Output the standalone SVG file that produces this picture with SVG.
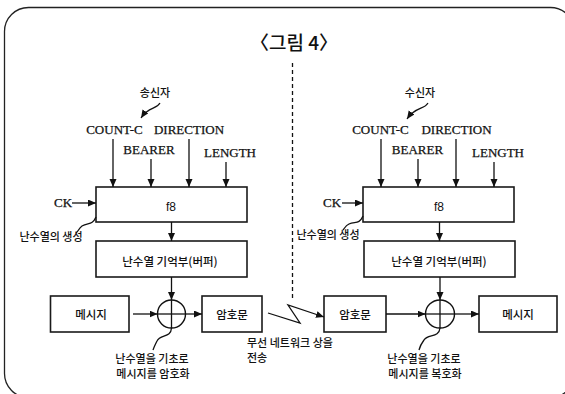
<svg xmlns="http://www.w3.org/2000/svg" width="565" height="394" viewBox="0 0 565 394">
<defs>
<marker id="arr" markerUnits="userSpaceOnUse" markerWidth="9" markerHeight="8" refX="8" refY="3.5" orient="auto">
<path d="M0,0 L8,3.5 L0,7 z" fill="#111"/>
</marker>
<style>
.box{fill:#fff;stroke:#1a1a1a;stroke-width:1.6}
.ln{fill:none;stroke:#111;stroke-width:1.3}
.ar{fill:none;stroke:#111;stroke-width:1.3;marker-end:url(#arr)}
.ser{font-family:"Liberation Serif","Times New Roman",serif;font-size:13px;fill:#111;stroke:#111;stroke-width:0.25}
.ko{font-family:"Noto Sans CJK KR","Noto Sans",sans-serif;font-size:11px;font-weight:500;fill:#111}
.kb{font-family:"Noto Sans CJK KR","Noto Sans",sans-serif;font-size:11.5px;font-weight:500;fill:#111}
.sm{font-family:"Liberation Sans","Noto Sans",sans-serif;font-size:12px;fill:#111}
</style>
</defs>
<rect width="565" height="394" fill="#fff"/>
<rect x="4.5" y="7.5" width="570" height="390" rx="24" fill="none" stroke="#222" stroke-width="1.3"/>
<text x="294" y="50" text-anchor="middle" font-family="'Noto Sans CJK KR','Noto Sans',sans-serif" font-size="19" font-weight="500" fill="#111">〈그림 4〉</text>
<line x1="292.5" y1="63" x2="292.5" y2="298" stroke="#111" stroke-width="1.3" stroke-dasharray="4,3"/>

<g id="sender-label">
<text class="ko" x="155" y="97" text-anchor="middle">송신자</text>
</g>
<g id="sender-inputs">
<text class="ser" x="114.5" y="134" text-anchor="middle">COUNT-C</text>
<text class="ser" x="189" y="134" text-anchor="middle">DIRECTION</text>
<text class="ser" x="149" y="154" text-anchor="middle">BEARER</text>
<text class="ser" x="230" y="157" text-anchor="middle">LENGTH</text>
<text class="ser" x="63" y="207" text-anchor="middle">CK</text>
</g>
<g id="sender-f8">
<rect class="box" x="96" y="187" width="151" height="35"/>
<text class="sm" x="171" y="211" text-anchor="middle">f8</text>
</g>
<g id="sender-gen-label">
<text class="ko" x="51" y="241" text-anchor="middle" font-size="10.5">난수열의 생성</text>
</g>
<g id="sender-buffer">
<rect class="box" x="96" y="241" width="151" height="36"/>
<text class="kb" x="170" y="266" text-anchor="middle">난수열 기억부(버퍼)</text>
</g>
<g id="sender-message">
<rect class="box" x="50.5" y="296" width="78.5" height="36"/>
<text class="kb" x="91" y="319" text-anchor="middle">메시지</text>
</g>
<g id="sender-xor">
<ellipse cx="171.5" cy="314" rx="14" ry="14" fill="#fff" stroke="#111" stroke-width="1.4"/>
<line x1="157.5" y1="314" x2="185.5" y2="314" stroke="#111" stroke-width="1.3"/>
<line x1="171.5" y1="300" x2="171.5" y2="328" stroke="#111" stroke-width="1.3"/>
</g>
<g id="sender-cipher">
<rect class="box" x="202" y="296" width="60" height="36"/>
<text class="kb" x="232" y="319" text-anchor="middle">암호문</text>
</g>
<g id="sender-xor-label">
<text class="ko" x="152" y="363" text-anchor="middle">난수열을 기초로</text>
<text class="ko" x="153" y="378" text-anchor="middle">메시지를 암호화</text>
</g>
<g id="wireless-label">
<text class="ko" x="247" y="347">무선 네트워크 상을</text>
<text class="ko" x="247" y="362">전송</text>
</g>

<g id="receiver-label">
<text class="ko" x="420" y="97" text-anchor="middle">수신자</text>
</g>
<g id="receiver-inputs">
<text class="ser" x="380.5" y="134" text-anchor="middle">COUNT-C</text>
<text class="ser" x="456.5" y="134" text-anchor="middle">DIRECTION</text>
<text class="ser" x="417.5" y="154" text-anchor="middle">BEARER</text>
<text class="ser" x="498" y="157" text-anchor="middle">LENGTH</text>
<text class="ser" x="332" y="207" text-anchor="middle">CK</text>
</g>
<g id="receiver-f8">
<rect class="box" x="363" y="187" width="151" height="35"/>
<text class="sm" x="439" y="211" text-anchor="middle">f8</text>
</g>
<g id="receiver-gen-label">
<text class="ko" x="328" y="239" text-anchor="middle" font-size="10.5">난수열의 생성</text>
</g>
<g id="receiver-buffer">
<rect class="box" x="364" y="241" width="151" height="36"/>
<text class="kb" x="439" y="266" text-anchor="middle">난수열 기억부(버퍼)</text>
</g>
<g id="receiver-cipher">
<rect class="box" x="324" y="296" width="62" height="36"/>
<text class="kb" x="355" y="319" text-anchor="middle">암호문</text>
</g>
<g id="receiver-xor">
<ellipse cx="440" cy="314" rx="14.5" ry="14" fill="#fff" stroke="#111" stroke-width="1.4"/>
<line x1="425.5" y1="314" x2="454.5" y2="314" stroke="#111" stroke-width="1.3"/>
<line x1="440" y1="300" x2="440" y2="328" stroke="#111" stroke-width="1.3"/>
</g>
<g id="receiver-message">
<rect class="box" x="479" y="296" width="78" height="36"/>
<text class="kb" x="518" y="319" text-anchor="middle">메시지</text>
</g>
<g id="receiver-xor-label">
<text class="ko" x="424" y="363" text-anchor="middle">난수열을 기초로</text>
<text class="ko" x="425" y="378" text-anchor="middle">메시지를 복호화</text>
</g>

<g id="connectors">
<path class="ar" d="M160,103 C156,110 149,106 141,118"/>
<line class="ar" x1="113" y1="139" x2="113" y2="187"/>
<line class="ar" x1="151" y1="159" x2="151" y2="187"/>
<line class="ar" x1="189" y1="139" x2="189" y2="187"/>
<line class="ar" x1="226" y1="162" x2="226" y2="187"/>
<line class="ar" x1="72" y1="203" x2="96" y2="203"/>
<path class="ln" d="M96,217 C92,226 88,222 82,226 C78,229 79,231 76,233"/>
<line class="ar" x1="171.5" y1="222" x2="171.5" y2="241"/>
<line class="ar" x1="171.5" y1="277" x2="171.5" y2="300"/>
<line class="ar" x1="133" y1="314" x2="157.5" y2="314"/>
<line class="ar" x1="185.5" y1="314" x2="202" y2="314"/>
<path class="ln" d="M171.5,328 C171,338 160,334 157,341 C155,345 154,347 153,350"/>
<path class="ar" d="M268,313 L300,323 L288,305 L324,317"/>

<path class="ar" d="M428,103 C424,110 416,106 407,119"/>
<line class="ar" x1="381" y1="139" x2="381" y2="187"/>
<line class="ar" x1="418" y1="159" x2="418" y2="187"/>
<line class="ar" x1="456" y1="139" x2="456" y2="187"/>
<line class="ar" x1="494" y1="162" x2="494" y2="187"/>
<line class="ar" x1="342" y1="203" x2="363" y2="203"/>
<path class="ln" d="M363,216 C359,225 355,221 349,224 C345,226 345,228 343,230"/>
<line class="ar" x1="439.5" y1="222" x2="439.5" y2="241"/>
<line class="ar" x1="440" y1="277" x2="440" y2="300"/>
<line class="ar" x1="386" y1="314" x2="425.5" y2="314"/>
<line class="ar" x1="454.5" y1="314" x2="479" y2="314"/>
<path class="ln" d="M440,328 C439,338 428,334 424,340 C421,344 420,346 419,350"/>
</g>
</svg>
